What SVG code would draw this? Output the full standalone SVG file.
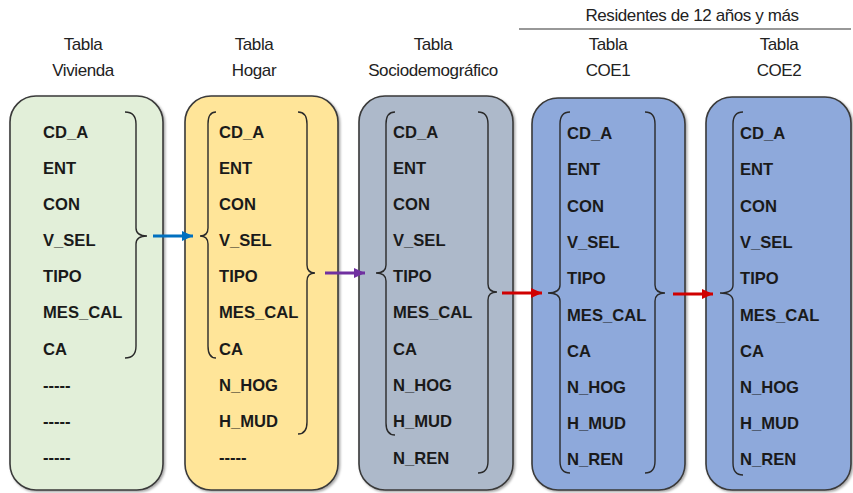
<svg xmlns="http://www.w3.org/2000/svg" width="853" height="493" viewBox="0 0 853 493">
<style>
.hdr{font-family:"Liberation Sans",Arial,sans-serif;font-size:17px;fill:#222;text-anchor:middle;letter-spacing:-0.4px}
.fld{font-family:"Liberation Sans",Arial,sans-serif;font-size:16.6px;font-weight:bold;fill:#1a1a1a}
.box{stroke:#3a3a3a;stroke-width:1.6;filter:url(#sh)}
.brace{fill:none;stroke:#2a2a2a;stroke-width:1.4}
.arr{stroke-width:3;fill:none}
</style>
<defs>
<filter id="sh" x="-10%" y="-10%" width="120%" height="120%">
<feDropShadow dx="1.5" dy="1.5" stdDeviation="1.2" flood-color="#000" flood-opacity="0.35"/>
</filter>
<marker id="mb" markerUnits="userSpaceOnUse" markerWidth="12" markerHeight="12" refX="11" refY="6" orient="auto"><path d="M0,1 L11,6 L0,11 Z" fill="#0070C0"/></marker>
<marker id="mp" markerUnits="userSpaceOnUse" markerWidth="12" markerHeight="12" refX="11" refY="6" orient="auto"><path d="M0,1 L11,6 L0,11 Z" fill="#7030A0"/></marker>
<marker id="mr" markerUnits="userSpaceOnUse" markerWidth="12" markerHeight="12" refX="11" refY="6" orient="auto"><path d="M0,1 L11,6 L0,11 Z" fill="#D00000"/></marker>
</defs>
<rect width="853" height="493" fill="#fff"/>

<g id="headers">
<text class="hdr" x="692" y="21">Residentes de 12 años y más</text>
<line x1="519" y1="29" x2="851" y2="29" stroke="#333" stroke-width="1.2"/>
<text class="hdr" x="83" y="50">Tabla</text><text class="hdr" x="83" y="76">Vivienda</text>
<text class="hdr" x="254" y="50">Tabla</text><text class="hdr" x="254" y="76">Hogar</text>
<text class="hdr" x="433" y="50">Tabla</text><text class="hdr" x="433" y="76">Sociodemográfico</text>
<text class="hdr" x="608" y="50">Tabla</text><text class="hdr" x="608" y="76">COE1</text>
<text class="hdr" x="779" y="50">Tabla</text><text class="hdr" x="779" y="76">COE2</text>
</g>

<g id="vivienda">
<rect class="box" x="10" y="96" width="153" height="394" rx="26" fill="#E2EFD9"/>
<text class="fld" x="43" y="138">CD_A</text>
<text class="fld" x="43" y="174">ENT</text>
<text class="fld" x="43" y="210">CON</text>
<text class="fld" x="43" y="246">V_SEL</text>
<text class="fld" x="43" y="282">TIPO</text>
<text class="fld" x="43" y="318">MES_CAL</text>
<text class="fld" x="43" y="355">CA</text>
<text class="fld" x="43" y="391">-----</text>
<text class="fld" x="43" y="427">-----</text>
<text class="fld" x="43" y="463">-----</text>
<path class="brace" d="M125,112 Q136,112 136,124 L136,228 Q136,236 147,236 Q136,236 136,244 L136,346 Q136,358 125,358"/>
</g>

<g id="hogar">
<rect class="box" x="185" y="96" width="153" height="394" rx="26" fill="#FFE599"/>
<text class="fld" x="219" y="138">CD_A</text>
<text class="fld" x="219" y="174">ENT</text>
<text class="fld" x="219" y="210">CON</text>
<text class="fld" x="219" y="246">V_SEL</text>
<text class="fld" x="219" y="282">TIPO</text>
<text class="fld" x="219" y="318">MES_CAL</text>
<text class="fld" x="219" y="355">CA</text>
<text class="fld" x="219" y="391">N_HOG</text>
<text class="fld" x="219" y="427">H_MUD</text>
<text class="fld" x="219" y="463">-----</text>
<path class="brace" d="M216,112 Q208,112 208,124 L208,228 Q208,236 200,236 Q208,236 208,244 L208,346 Q208,358 216,358"/>
<path class="brace" d="M298,112 Q307,112 307,124 L307,265 Q307,273 315,273 Q307,273 307,281 L307,422 Q307,434 298,434"/>
</g>

<g id="sociodemografico">
<rect class="box" x="359" y="96" width="154" height="394" rx="26" fill="#ADB9CA"/>
<text class="fld" x="393" y="138">CD_A</text>
<text class="fld" x="393" y="174">ENT</text>
<text class="fld" x="393" y="210">CON</text>
<text class="fld" x="393" y="246">V_SEL</text>
<text class="fld" x="393" y="282">TIPO</text>
<text class="fld" x="393" y="318">MES_CAL</text>
<text class="fld" x="393" y="355">CA</text>
<text class="fld" x="393" y="391">N_HOG</text>
<text class="fld" x="393" y="427">H_MUD</text>
<text class="fld" x="393" y="464">N_REN</text>
<path class="brace" d="M395,112 Q386,112 386,124 L386,265 Q386,273 376,273 Q386,273 386,281 L386,423 Q386,435 395,435"/>
<path class="brace" d="M478,112 Q488,112 488,124 L488,284 Q488,292 497,292 Q488,292 488,300 L488,461 Q488,473 478,473"/>
</g>

<g id="coe1">
<rect class="box" x="532" y="98" width="153" height="392" rx="26" fill="#8EA9DB"/>
<text class="fld" x="567" y="139">CD_A</text>
<text class="fld" x="567" y="175">ENT</text>
<text class="fld" x="567" y="212">CON</text>
<text class="fld" x="567" y="248">V_SEL</text>
<text class="fld" x="567" y="284">TIPO</text>
<text class="fld" x="567" y="321">MES_CAL</text>
<text class="fld" x="567" y="357">CA</text>
<text class="fld" x="567" y="393">N_HOG</text>
<text class="fld" x="567" y="429">H_MUD</text>
<text class="fld" x="567" y="465">N_REN</text>
<path class="brace" d="M570,112 Q560,112 560,124 L560,285 Q560,293 548,293 Q560,293 560,301 L560,461 Q560,473 570,473"/>
<path class="brace" d="M645,112 Q655,112 655,124 L655,285 Q655,293 665,293 Q655,293 655,301 L655,461 Q655,473 645,473"/>
</g>

<g id="coe2">
<rect class="box" x="706" y="97" width="145" height="393" rx="26" fill="#8EA9DB"/>
<text class="fld" x="740" y="139">CD_A</text>
<text class="fld" x="740" y="175">ENT</text>
<text class="fld" x="740" y="212">CON</text>
<text class="fld" x="740" y="248">V_SEL</text>
<text class="fld" x="740" y="284">TIPO</text>
<text class="fld" x="740" y="321">MES_CAL</text>
<text class="fld" x="740" y="357">CA</text>
<text class="fld" x="740" y="393">N_HOG</text>
<text class="fld" x="740" y="429">H_MUD</text>
<text class="fld" x="740" y="465">N_REN</text>
<path class="brace" d="M743,112 Q733,112 733,124 L733,285 Q733,293 720,293 Q733,293 733,301 L733,463 Q733,475 743,475"/>
</g>

<g id="connectors">
<line class="arr" x1="153" y1="236" x2="193" y2="236" stroke="#0070C0" marker-end="url(#mb)"/>
<line class="arr" x1="325" y1="273" x2="365" y2="273" stroke="#7030A0" marker-end="url(#mp)"/>
<line class="arr" x1="502" y1="293" x2="542" y2="293" stroke="#D00000" marker-end="url(#mr)"/>
<line class="arr" x1="673" y1="294" x2="713" y2="294" stroke="#D00000" marker-end="url(#mr)"/>
</g>
</svg>
